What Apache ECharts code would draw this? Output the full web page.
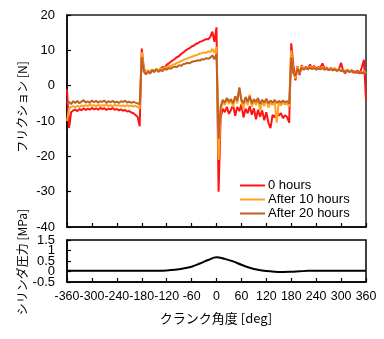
<!DOCTYPE html>
<html><head><meta charset="utf-8">
<script src="https://cdn.jsdelivr.net/npm/echarts@6/dist/echarts.min.js"></script>
<style>html,body{margin:0;padding:0;background:#fff}#c{width:384px;height:339px}</style>
</head><body><div id="c"></div>
<script>
// Crank angle grid for friction data: -360..360 step 5 deg
const angleStart = -360, angleStep = 5;
const friction0h = [-1,-12,-7.5,-7,-6.8,-7.2,-6.6,-7,-6.4,-6.9,-6.5,-6.8,-6.3,-6.7,-6.4,-6.8,-6.3,-6.6,-6.4,-6.9,-6.5,-6.7,-6.3,-6.8,-6.6,-7,-6.7,-7.1,-6.9,-7.3,-7.2,-7.6,-7.8,-8.3,-8.8,-11.5,
10.5,5,3.5,4.2,3.8,4.5,4,4.6,4.2,4.8,5.3,5.1,5.9,6.3,6.8,7.2,7.6,8.1,8.4,9,9.4,9.9,10.3,10.6,11.1,11.3,11.8,12,12.4,12.6,12.9,13.2,13.1,13.8,15.3,12.4,16.5,
-30,-9,-6.5,-7.5,-6,-8,-6.8,-5.5,-8.5,-6,-7.2,-5.3,-9,-6.5,-7.8,-5.8,-8.2,-6.4,-9.5,-6.8,-8.8,-7,-9.8,-7.5,-10.5,-12,-8.3,-9,-7.6,-8.5,-7.8,-9.2,-8.4,-8.9,-10.5,
12,6,1.5,5.5,3,5.8,4.6,5.4,4.8,6,5,5.6,4.7,5.3,5,6.3,4.8,5.2,4.5,5,4.6,4.9,4.3,4.7,6.5,4.2,3.5,4.6,3.8,4.4,4.1,3.6,4.3,3.4,5.2,7.3,-4];
const friction10h = [-10,-6.5,-6,-5.8,-6.2,-5.7,-6,-5.6,-5.9,-5.5,-5.8,-5.4,-5.7,-5.5,-5.9,-5.4,-5.8,-5.5,-5.7,-5.3,-5.8,-5.5,-5.9,-5.4,-5.7,-5.5,-5.8,-5.6,-5.9,-5.5,-5.8,-5.6,-5.9,-5.7,-6,-6.5,
9.5,4.5,3.6,4.4,3.7,4.6,4.1,4.8,4.3,4.9,4.6,5.2,5,5.6,5.5,6,6.1,6.5,6.6,7,7.2,7.5,7.7,8,8.1,8.4,8.6,8.8,9.1,9.2,9.4,9.3,9.7,9.5,10.4,9.3,11,
-21,-7,-4.5,-5.5,-3.8,-5.2,-4,-6,-3.2,-5,-0.8,-4.6,-6.5,-3.5,-5.5,-2.5,-6,-4.2,-5.5,-3.8,-7,-4.5,-5.8,-3.9,-6.2,-4.8,-5.5,-4.2,-10.5,-4.5,-5.6,-4.8,-5.3,-5,-6,
10,4,2,5.4,3.5,5.5,4.8,5.2,4.6,5.5,4.9,5.3,4.6,5.1,4.8,5.4,4.7,5,4.5,4.9,4.5,4.8,4.2,4.6,4.3,4.5,3.9,4.4,4,4.3,3.8,4.1,3.7,4,3.6,4.2,3.5];
const friction20h = [-5,-4.6,-5.2,-4.4,-4.9,-4.3,-5,-4.5,-4.1,-4.8,-4.4,-4.9,-4.2,-4.7,-4.3,-4.8,-4.4,-4.6,-4.2,-4.9,-4.4,-4.7,-4.3,-4.8,-4.5,-4.9,-4.4,-4.6,-4.3,-4.8,-4.5,-4.9,-4.6,-4.8,-5,-5.3,
8,4,3.2,4,3.4,4.4,3.8,4.6,3.9,4.4,4.1,4.8,4.5,5,4.8,5.2,5.4,5.3,5.8,5.6,6.1,6.2,6.5,6.3,6.7,6.9,7,7.2,7.1,7.5,7.4,7.8,7.6,7.9,8.6,7.5,9,
-15,-6,-4,-4.8,-3.5,-4.5,-3.8,-5,-3,-4.2,-0.5,-4,-5,-3.2,-4.6,-3,-5,-3.8,-4.6,-3.5,-5.2,-4,-4.8,-3.7,-5,-4.2,-4.8,-4,-4.9,-4.3,-4.8,-4.2,-4.7,-4.4,-5,
8,3.5,2.8,4.8,3.8,5,4.5,5,4.6,5.1,4.7,5,4.5,4.9,4.6,5,4.5,4.8,4.4,4.7,4.3,4.6,4.2,4.5,4.1,4.4,3.9,4.2,3.9,4.1,3.7,4,3.6,3.9,3.5,3.8,3.2];
// Cylinder pressure: -360..360 step 20 deg
const pressureStep = 20;
const pressureMPa = [0.04,0.04,0.04,0.04,0.04,0.04,0.04,0.04,0.04,0.04,0.04,0.04,0.05,0.08,0.14,0.23,0.38,0.55,0.68,0.6,0.48,0.32,0.18,0.08,0.02,-0.01,-0.02,-0.01,0.01,0.03,0.04,0.04,0.04,0.04,0.04,0.04,0.04];
const pressureTicksOdd = [-0.5, 0.5, 1.5];
const pressureTicksEven = [0, 1];
const seriesNames = ['0 hours','After 10 hours','After 20 hours'];

const pair = (arr, step) => arr.map((v,i)=>[angleStart+i*step, v]);
const colors = ['#ff1414','#ffa41c','#bd6226'];
const font = 'Arial, "Liberation Sans", "Noto Sans CJK JP", sans-serif';
const jp = '"Noto Sans CJK JP", sans-serif';

const chart = echarts.init(document.getElementById('c'), null, {renderer:'canvas'});
const axisLine = {show:true, onZero:false, lineStyle:{color:'#000', width:1.5}};
const tick = {show:true, inside:true, length:4, lineStyle:{color:'#000', width:1.2}};
const lab = {color:'#000', fontFamily:font, showMinLabel:true, showMaxLabel:true, hideOverlap:false};
chart.setOption({
  animation:false,
  grid:[
    {left:67, top:15, width:299, height:212, show:true, borderColor:'#222', borderWidth:1.5, backgroundColor:'transparent'},
    {left:67, top:240, width:299, height:42, show:true, borderColor:'#000', borderWidth:1.5, backgroundColor:'transparent'}
  ],
  xAxis:[
    {gridIndex:0, type:'value', min:-360, max:360, interval:60, axisLine, axisTick:tick, axisLabel:{show:false}, splitLine:{show:false}},
    {gridIndex:1, type:'value', min:-360, max:360, interval:60, axisLine, axisTick:tick,
      axisLabel:Object.assign({margin:8, fontSize:12.4}, lab), splitLine:{show:false}}
  ],
  yAxis:[
    {gridIndex:0, type:'value', min:-40, max:20, interval:10, axisLine, axisTick:tick,
      axisLabel:Object.assign({margin:12, fontSize:13}, lab), splitLine:{show:false}},
    {gridIndex:1, type:'value', position:'left', min:-0.5, max:1.5, axisLine,
      axisTick:Object.assign({customValues:pressureTicksOdd}, tick),
      axisLabel:Object.assign({margin:12, fontSize:13, customValues:pressureTicksOdd}, lab), splitLine:{show:false}},
    {gridIndex:1, type:'value', position:'left', offset:0, min:-0.5, max:1.5, axisLine:{show:false, onZero:false},
      axisTick:Object.assign({customValues:pressureTicksEven}, tick),
      axisLabel:Object.assign({margin:12, fontSize:13, customValues:pressureTicksEven}, lab), splitLine:{show:false}}
  ],
  legend:{
    orient:'vertical', left:235, top:174, itemWidth:25, itemHeight:2, itemGap:1, icon:'rect',
    data:seriesNames, textStyle:{fontSize:13, color:'#000', fontFamily:font, lineHeight:13, padding:[0,0,0,-2]}
  },
  series:[
    {name:seriesNames[0], type:'line', xAxisIndex:0, yAxisIndex:0, data:pair(friction0h, angleStep), showSymbol:false, color:colors[0], lineStyle:{width:2, color:colors[0]}, z:2},
    {name:seriesNames[1], type:'line', xAxisIndex:0, yAxisIndex:0, data:pair(friction10h, angleStep), showSymbol:false, color:colors[1], lineStyle:{width:2, color:colors[1]}, z:3},
    {name:seriesNames[2], type:'line', xAxisIndex:0, yAxisIndex:0, data:pair(friction20h, angleStep), showSymbol:false, color:colors[2], lineStyle:{width:2, color:colors[2]}, z:4},
    {name:'pressure', type:'line', xAxisIndex:1, yAxisIndex:1, data:pair(pressureMPa, pressureStep), showSymbol:false, smooth:0.4, color:'#000', lineStyle:{width:2, color:'#000'}}
  ],
  graphic:[
    {type:'text', x:22, y:107, rotation:Math.PI/2, style:{text:'フリクション [N]', font:'12px '+jp, fill:'#000', align:'center', verticalAlign:'middle'}},
    {type:'text', x:22, y:262, rotation:Math.PI/2, style:{text:'シリンダ圧力 [MPa]', font:'12px '+jp, fill:'#000', align:'center', verticalAlign:'middle'}},
    {type:'text', x:216, y:318, style:{text:'クランク角度 [deg]', font:'13px '+jp, fill:'#000', align:'center', verticalAlign:'middle'}}
  ]
});
</script></body></html>
